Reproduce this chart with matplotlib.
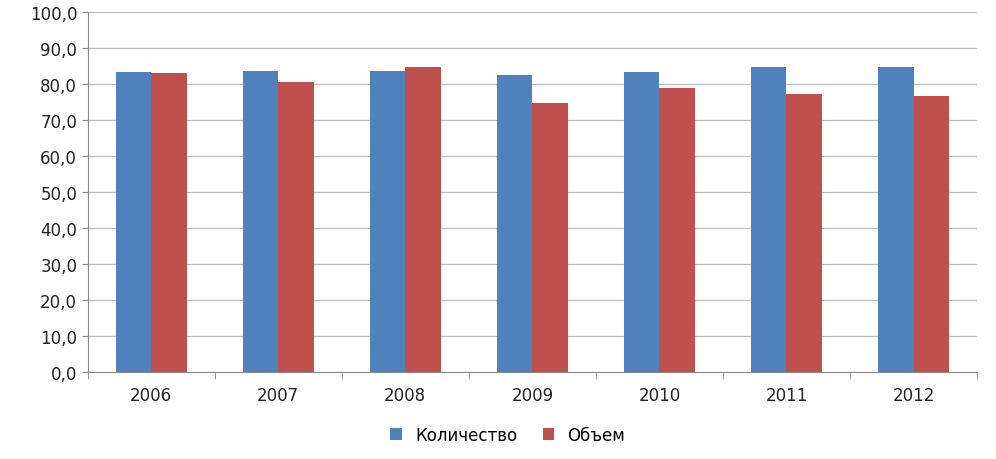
import matplotlib
matplotlib.use("Agg")
import matplotlib.pyplot as plt
import numpy as np

years = ["2006", "2007", "2008", "2009", "2010", "2011", "2012"]
kolichestvo = [83.2, 83.6, 83.6, 82.4, 83.2, 84.6, 84.6]
obem = [82.9, 80.5, 84.7, 74.7, 78.9, 77.2, 76.6]

fig = plt.figure(figsize=(9.96, 4.6), dpi=100)
ax = fig.add_axes([0.088, 0.189, 0.893, 0.783])
x = np.arange(len(years))
w = 0.28
ax.bar(x - w / 2, kolichestvo, w, color="#4F81BD", label="Количество", zorder=3)
ax.bar(x + w / 2, obem, w, color="#C0504D", label="Объем", zorder=3)

ax.set_xlim(-0.5, len(years) - 0.5)
ax.set_ylim(0, 100)
ax.set_yticks(np.arange(0, 101, 10))
ax.set_yticklabels([f"{v:.1f}".replace(".", ",") for v in range(0, 101, 10)])
ax.set_xticks(x)
ax.set_xticklabels(years)
ax.set_xticks(np.arange(-0.5, len(years), 1), minor=True)
ax.tick_params(axis="x", which="major", length=0, pad=10)
ax.tick_params(axis="x", which="minor", length=5, color="#888888")
ax.tick_params(axis="y", length=4, color="#888888")
ax.tick_params(labelsize=12, labelcolor="#222222")
ax.grid(axis="y", color="#BBBBBB", linewidth=0.9, zorder=0)
for s in ["top", "right"]:
    ax.spines[s].set_visible(False)
for s in ["left", "bottom"]:
    ax.spines[s].set_color("#888888")

fig.legend(loc="lower center", bbox_to_anchor=(0.51, 0.0), ncol=2, frameon=False,
           fontsize=12, handlelength=0.7, handleheight=0.7, columnspacing=1.5)
fig.savefig("out.png", dpi=100)
